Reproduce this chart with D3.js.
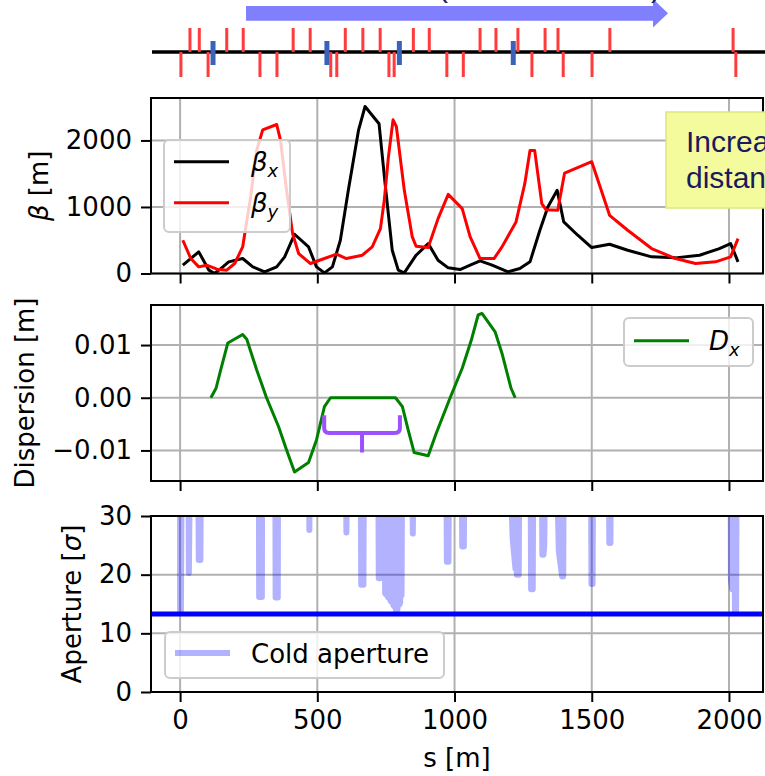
<!DOCTYPE html>
<html>
<head>
<meta charset="utf-8">
<script src="https://cdn.jsdelivr.net/npm/d3@7"></script>
<style>
  body { margin: 0; background: #fff; }
  svg { display: block; }
</style>
</head>
<body>
<svg id="chart" width="765" height="776"></svg>
<script>
// ---------------- data ----------------
const sTicks = [0, 500, 1000, 1500, 2000];
const sLimits = [-106, 2124];

// Twiss beta functions [m] along s [m]
const betaXS = [10, 68, 105, 126, 156, 177, 228, 265, 308, 352, 381, 417, 468, 497, 526, 555, 584, 613, 650, 674, 725, 747, 773, 795, 817, 860, 904, 940, 977, 1020, 1057, 1093, 1137, 1195, 1238, 1275, 1311, 1340, 1374, 1398, 1449, 1500, 1565, 1631, 1718, 1805, 1893, 1965, 2006, 2033];
const betaX  = [125, 325, 50, 0, 100, 175, 225, 100, 25, 100, 250, 590, 400, 100, 10, 100, 500, 1250, 2150, 2510, 2250, 1350, 350, 50, 10, 275, 450, 200, 85, 60, 125, 190, 125, 25, 75, 175, 650, 1000, 1250, 775, 575, 390, 440, 350, 250, 235, 275, 375, 450, 175];
const betaYS = [10, 39, 68, 97, 134, 170, 199, 228, 257, 279, 301, 352, 366, 388, 410, 432, 475, 526, 570, 606, 664, 700, 730, 744, 759, 776, 788, 817, 846, 860, 904, 940, 977, 1028, 1057, 1093, 1144, 1173, 1224, 1256, 1275, 1292, 1318, 1333, 1376, 1401, 1500, 1565, 1631, 1718, 1805, 1878, 1951, 2006, 2033];
const betaY  = [500, 225, 100, 125, 65, 50, 150, 400, 1150, 1850, 2160, 2240, 2000, 1250, 600, 300, 150, 225, 290, 225, 275, 400, 675, 1100, 1750, 2310, 2210, 1250, 550, 410, 390, 825, 1190, 975, 550, 225, 225, 400, 775, 1350, 1850, 1850, 1050, 960, 950, 1510, 1680, 875, 650, 375, 225, 150, 175, 250, 525];
const betaTicks = [0, 1000, 2000];
const betaLimits = [0, 2638];

// Horizontal dispersion [m]
const dispS = [112, 131, 148, 174, 228, 243, 279, 315, 359, 388, 417, 468, 497, 526, 548, 785, 810, 831, 853, 904, 933, 984, 1028, 1061, 1086, 1100, 1148, 1173, 1206, 1221];
const dispX = [0, 0.0018, 0.0053, 0.0104, 0.0120, 0.0111, 0.0053, 0, -0.0055, -0.0099, -0.0141, -0.0123, -0.0080, -0.0017, 0, 0, -0.0017, -0.0061, -0.0104, -0.0110, -0.0068, 0, 0.0056, 0.0109, 0.0157, 0.0160, 0.0125, 0.0084, 0.0018, 0];
const dispTicks = [-0.01, 0, 0.01];
const dispTickLabels = ["\u22120.01", "0.00", "0.01"];
const dispLimits = [-0.0158, 0.0176];

// Dispersion-free straight section marker (s and D of the brace ends, bar and stem)
const braceS = [525, 663, 801];
const braceD = [-0.0033, -0.0067, -0.0104];

// Cold aperture [sigma]; values of 40 lie above the plotted range
const apertureS = [-20, 0, 0, 3, 6, 30, 32, 36, 66, 68, 74, 76, 287, 288, 298, 299, 347, 348, 356, 357, 470, 471, 473, 604, 606, 609, 658, 660, 668, 670, 722, 724, 730, 732,
  746, 747, 752, 753, 756, 757, 762, 763, 766, 767, 772, 773, 776, 777, 782, 783, 786, 787, 792, 793, 796, 797, 802, 803, 806, 807, 809,
  846, 848, 851, 970, 972, 978, 980, 1026, 1028, 1034, 1036,
  1202, 1212, 1222, 1223, 1226, 1227, 1234, 1236,
  1277, 1279, 1285, 1287, 1318, 1320, 1324, 1327, 1330, 1372, 1380, 1392, 1396, 1398, 1497, 1499, 1503, 1505, 1562, 1564, 1568, 1570,
  2006, 2007, 2012, 2013, 2016, 2022, 2026, 2028, 2040];
const apertureSigma = [40, 40, 13.8, 13.8, 40, 40, 20.3, 40, 40, 22.5, 22.5, 40, 40, 16.2, 16.2, 40, 40, 16.1, 16.1, 40, 40, 27.6, 40, 40, 27.2, 40, 40, 18.3, 18.3, 40, 40, 19.4, 19.4, 40,
  40, 16.8, 16.6, 40, 40, 16.2, 16, 40, 40, 15.5, 15.3, 40, 40, 14.8, 14.5, 40, 40, 13.6, 14, 40, 40, 14.8, 15.2, 40, 40, 16.5, 40,
  40, 27, 40, 40, 22.2, 22.2, 40, 40, 24.8, 24.8, 40,
  40, 26, 21, 40, 40, 20, 20, 40,
  40, 17.5, 17.5, 40, 40, 23.4, 23.4, 25, 40, 40, 24, 19.7, 19.7, 40, 40, 18.4, 18.4, 40, 40, 25.4, 25.4, 40,
  40, 19.1, 17.5, 40, 40, 13.8, 13.8, 40, 40];
const apertureLimit = 13.3;
const apertureTicks = [0, 10, 20, 30];
const apertureLimits = [0, 30];

// Lattice elements along s [m]
const dipolesUpper = [36, 70, 170, 230, 412, 474, 602, 666, 729, 850, 908, 1093, 1151, 1231, 1330, 1377, 1566, 2015];
const dipolesLower = [3, 102, 291, 353, 549, 571, 761, 780, 972, 1032, 1282, 1396, 1501, 2025];
const correctors = [120, 535, 799, 1214];

// ---------------- layout ----------------
const svg = d3.select("#chart");
const FONT = "DejaVu Sans, sans-serif";
const FS = 26;
const left = 151, right = 763;
const panels = [
  { top: 98, bottom: 273.5 },
  { top: 305, bottom: 481 },
  { top: 516, bottom: 692 }
];
const GRID = "#b0b0b0";

const x = d3.scaleLinear().domain(sLimits).range([left, right]);
const yBeta = d3.scaleLinear().domain(betaLimits).range([panels[0].bottom, panels[0].top]);
const yDisp = d3.scaleLinear().domain(dispLimits).range([panels[1].bottom, panels[1].top]);
const yAper = d3.scaleLinear().domain(apertureLimits).range([panels[2].bottom, panels[2].top]);

const defs = svg.append("defs");
panels.forEach((p, i) => {
  defs.append("clipPath").attr("id", "clip" + i)
    .append("rect").attr("x", left).attr("y", p.top)
    .attr("width", right - left).attr("height", p.bottom - p.top);
});

function grid(p, y, yTicks) {
  const g = svg.append("g");
  g.selectAll(".gx").data(sTicks).join("line")
    .attr("x1", d => x(d)).attr("x2", d => x(d))
    .attr("y1", p.top).attr("y2", p.bottom)
    .attr("stroke", GRID).attr("stroke-width", 2);
  g.selectAll(".gy").data(yTicks).join("line")
    .attr("x1", left).attr("x2", right)
    .attr("y1", d => y(d)).attr("y2", d => y(d))
    .attr("stroke", GRID).attr("stroke-width", 2);
}

function frame(p, y, yTicks, yLabels, showX) {
  svg.append("rect").attr("x", left).attr("y", p.top)
    .attr("width", right - left).attr("height", p.bottom - p.top)
    .attr("fill", "none").attr("stroke", "#000").attr("stroke-width", 2);

  const ax = svg.append("g").attr("transform", `translate(0,${p.bottom})`)
    .call(d3.axisBottom(x).tickValues(sTicks).tickSize(10).tickPadding(9).tickSizeOuter(0)
      .tickFormat(showX ? d3.format("d") : () => ""));
  ax.select(".domain").remove();
  ax.selectAll(".tick line").attr("stroke", "#000").attr("stroke-width", 2);
  ax.selectAll(".tick text").attr("font-family", FONT).attr("font-size", FS).attr("fill", "#000");

  const ay = svg.append("g").attr("transform", `translate(${left},0)`)
    .call(d3.axisLeft(y).tickValues(yTicks).tickSize(10).tickPadding(9).tickSizeOuter(0)
      .tickFormat((d, i) => yLabels ? yLabels[i] : d3.format("d")(d)));
  ay.select(".domain").remove();
  ay.selectAll(".tick line").attr("stroke", "#000").attr("stroke-width", 2);
  ay.selectAll(".tick text").attr("font-family", FONT).attr("font-size", FS).attr("fill", "#000");
}

function legendBox(x0, y0, w, h) {
  svg.append("rect").attr("x", x0).attr("y", y0).attr("width", w).attr("height", h)
    .attr("rx", 5).attr("fill", "#fff").attr("fill-opacity", 0.8)
    .attr("stroke", "#cccccc").attr("stroke-width", 2);
}

function mathLabel(g, symbol, sub, rest) {
  const t = g.append("text").attr("font-family", FONT).attr("font-size", FS).attr("fill", "#000");
  t.append("tspan").attr("font-style", "italic").text(symbol);
  if (sub) t.append("tspan").attr("font-style", "italic").attr("font-size", 18).attr("dy", 6).text(sub);
  if (rest) t.append("tspan").text(rest);
  return t;
}

// ---------------- lattice strip ----------------
svg.append("line").attr("x1", 152).attr("x2", 765).attr("y1", 52).attr("y2", 52)
  .attr("stroke", "#000").attr("stroke-width", 3.5);
svg.append("g").selectAll("line").data(dipolesUpper).join("line")
  .attr("x1", d => x(d)).attr("x2", d => x(d)).attr("y1", 28).attr("y2", 52)
  .attr("stroke", "#ff3b3b").attr("stroke-width", 3);
svg.append("g").selectAll("line").data(dipolesLower).join("line")
  .attr("x1", d => x(d)).attr("x2", d => x(d)).attr("y1", 52).attr("y2", 77)
  .attr("stroke", "#ff3b3b").attr("stroke-width", 3);
svg.append("g").selectAll("line").data(correctors).join("line")
  .attr("x1", d => x(d)).attr("x2", d => x(d)).attr("y1", 41).attr("y2", 65)
  .attr("stroke", "#3a62b8").attr("stroke-width", 5);

// beam direction arrow
svg.append("path")
  .attr("d", "M246,6 L653,6 L653,-1 L668,13.3 L653,27.5 L653,20.7 L246,20.7 Z")
  .attr("fill", "#8080ff");
svg.append("text").attr("x", 443).attr("y", -3.5).attr("font-family", "Liberation Sans, Arial, sans-serif")
  .attr("font-size", 30).attr("fill", "#1a1a5e").attr("text-anchor", "middle").text("(");
svg.append("text").attr("x", 656).attr("y", -3.5).attr("font-family", "Liberation Sans, Arial, sans-serif")
  .attr("font-size", 30).attr("fill", "#1a1a5e").attr("text-anchor", "middle").text(")");

// ---------------- panel 1: beta ----------------
grid(panels[0], yBeta, betaTicks);
const g1 = svg.append("g").attr("clip-path", "url(#clip0)");
const lineBX = d3.line().x((d, i) => x(betaXS[i])).y(d => yBeta(d));
const lineBY = d3.line().x((d, i) => x(betaYS[i])).y(d => yBeta(d));
g1.append("path").attr("d", lineBX(betaX)).attr("fill", "none").attr("stroke", "#000")
  .attr("stroke-width", 3).attr("stroke-linejoin", "round");
g1.append("path").attr("d", lineBY(betaY)).attr("fill", "none").attr("stroke", "#ff0000")
  .attr("stroke-width", 3).attr("stroke-linejoin", "round");
frame(panels[0], yBeta, betaTicks, null, false);

legendBox(164, 140, 126, 92);
svg.append("line").attr("x1", 174).attr("x2", 229).attr("y1", 161.7).attr("y2", 161.7)
  .attr("stroke", "#000").attr("stroke-width", 3);
svg.append("line").attr("x1", 174).attr("x2", 229).attr("y1", 202.7).attr("y2", 202.7)
  .attr("stroke", "#ff0000").attr("stroke-width", 3);
mathLabel(svg, "\u03B2", "x").attr("x", 251).attr("y", 171);
mathLabel(svg, "\u03B2", "y").attr("x", 251).attr("y", 212);

// ---------------- panel 2: dispersion ----------------
grid(panels[1], yDisp, dispTicks);
const g2 = svg.append("g").attr("clip-path", "url(#clip1)");
const lineD = d3.line().x((d, i) => x(dispS[i])).y(d => yDisp(d));
g2.append("path").attr("d", lineD(dispX)).attr("fill", "none").attr("stroke", "#008000")
  .attr("stroke-width", 3).attr("stroke-linejoin", "round");

// brace over the dispersion-free section
const braceR = 5;
const bx0 = x(braceS[0]), bxm = x(braceS[1]), bx1 = x(braceS[2]);
const byTop = yDisp(braceD[0]), byBar = yDisp(braceD[1]), byStem = yDisp(braceD[2]);
g2.append("path")
  .attr("d", `M${bx0},${byTop} L${bx0},${byBar - braceR} Q${bx0},${byBar} ${bx0 + braceR},${byBar}
              L${bx1 - braceR},${byBar} Q${bx1},${byBar} ${bx1},${byBar - braceR} L${bx1},${byTop}
              M${bxm},${byBar} L${bxm},${byStem}`)
  .attr("fill", "none").attr("stroke", "#9c50ff").attr("stroke-width", 4);
frame(panels[1], yDisp, dispTicks, dispTickLabels, false);

legendBox(624, 318, 129, 48);
svg.append("line").attr("x1", 634).attr("x2", 689).attr("y1", 340.7).attr("y2", 340.7)
  .attr("stroke", "#008000").attr("stroke-width", 3);
mathLabel(svg, "D", "x").attr("x", 709).attr("y", 350);

// ---------------- panel 3: aperture ----------------
grid(panels[2], yAper, apertureTicks);
const g3 = svg.append("g").attr("clip-path", "url(#clip2)");
const lineA = d3.line().x((d, i) => x(apertureS[i])).y(d => yAper(d));
g3.append("path").attr("d", lineA(apertureSigma)).attr("fill", "none")
  .attr("stroke", "#0000ff").attr("stroke-opacity", 0.3).attr("stroke-width", 6)
  .attr("stroke-linejoin", "round").attr("stroke-linecap", "round");
g3.append("line").attr("x1", left).attr("x2", right)
  .attr("y1", yAper(apertureLimit)).attr("y2", yAper(apertureLimit))
  .attr("stroke", "#0000ff").attr("stroke-width", 5);
frame(panels[2], yAper, apertureTicks, null, true);

legendBox(165, 632, 279, 46);
svg.append("line").attr("x1", 175).attr("x2", 230).attr("y1", 653).attr("y2", 653)
  .attr("stroke", "#0000ff").attr("stroke-opacity", 0.3).attr("stroke-width", 6);
svg.append("text").attr("x", 251).attr("y", 663).attr("font-family", FONT).attr("font-size", FS)
  .attr("fill", "#000").text("Cold aperture");

// ---------------- axis labels ----------------
function yLabel(cx, cy, build) {
  const g = svg.append("g").attr("transform", `translate(${cx},${cy}) rotate(-90)`);
  build(g).attr("text-anchor", "middle").attr("x", 0).attr("y", 0);
}
yLabel(48, (panels[0].top + panels[0].bottom) / 2, g => mathLabel(g, "\u03B2", null, " [m]"));
yLabel(34, (panels[1].top + panels[1].bottom) / 2, g =>
  g.append("text").attr("font-family", FONT).attr("font-size", FS).attr("fill", "#000").text("Dispersion [m]"));
yLabel(81, (panels[2].top + panels[2].bottom) / 2, g => {
  const t = g.append("text").attr("font-family", FONT).attr("font-size", FS).attr("fill", "#000");
  t.append("tspan").text("Aperture [");
  t.append("tspan").attr("font-style", "italic").text("\u03C3");
  t.append("tspan").text("]");
  return t;
});
svg.append("text").attr("x", (left + right) / 2).attr("y", 767).attr("text-anchor", "middle")
  .attr("font-family", FONT).attr("font-size", FS).attr("fill", "#000").text("s [m]");

// ---------------- annotation box ----------------
svg.append("rect").attr("x", 666).attr("y", 112).attr("width", 200).attr("height", 96)
  .attr("fill", "#f4fb9c").attr("stroke", "#dce87c").attr("stroke-width", 1.5);
const note = svg.append("text").attr("font-family", "Liberation Sans, Arial, sans-serif")
  .attr("font-size", 30).attr("fill", "#1a1a5e");
note.append("tspan").attr("x", 686).attr("y", 152).text("Increased");
note.append("tspan").attr("x", 686).attr("y", 188).text("distance");
</script>
</body>
</html>
